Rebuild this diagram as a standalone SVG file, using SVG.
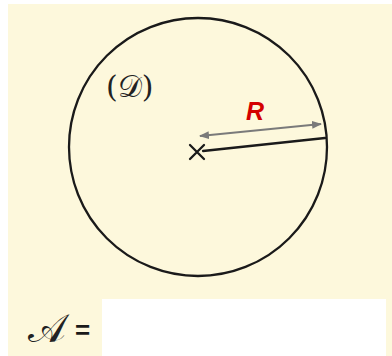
<svg xmlns="http://www.w3.org/2000/svg" width="392" height="356" viewBox="0 0 392 356">
<style>
.ln{stroke:#1a1a1a;stroke-width:2.3;fill:none;stroke-linecap:round}
.dim{stroke:#7a7a7a;stroke-width:2;fill:none}
.lbl{font-family:"DejaVu Serif","Noto Sans",serif;fill:#222}
</style>
<defs>
<marker id="ah" viewBox="0 0 10 10" refX="9" refY="5" markerWidth="5" markerHeight="5" orient="auto-start-reverse" markerUnits="strokeWidth">
<path d="M0,1 L10,5 L0,9 Z" fill="#7a7a7a"/>
</marker>
</defs>
<rect x="0" y="0" width="392" height="356" fill="#ffffff"/>
<rect x="8" y="4" width="384" height="352" fill="#fdf8dc"/>
<g id="disc">
<circle cx="198" cy="147" r="129" class="ln"/>
<text class="lbl" x="106" y="97" font-size="30">(𝒟)</text>
</g>
<g id="center">
<path class="ln" d="M190,145 L204,159 M204,145 L190,159"/>
</g>
<g id="connectors">
<line class="ln" x1="203" y1="151" x2="325" y2="138"/>
<line class="dim" x1="200" y1="136" x2="321" y2="124" marker-start="url(#ah)" marker-end="url(#ah)"/>
</g>
<g id="radius-label">
<text x="255" y="120" font-family="Liberation Sans, Arial, sans-serif" font-size="25" font-weight="bold" font-style="italic" fill="#d40000" text-anchor="middle">R</text>
</g>
<g id="area">
<text class="lbl" x="28" y="342" font-size="40">𝒜</text>
<text x="75" y="339" font-family="Liberation Sans, Arial, sans-serif" font-size="26" font-weight="bold" fill="#1a1a1a">=</text>
<rect x="102" y="299" width="284" height="57" fill="#ffffff"/>
</g>
</svg>
